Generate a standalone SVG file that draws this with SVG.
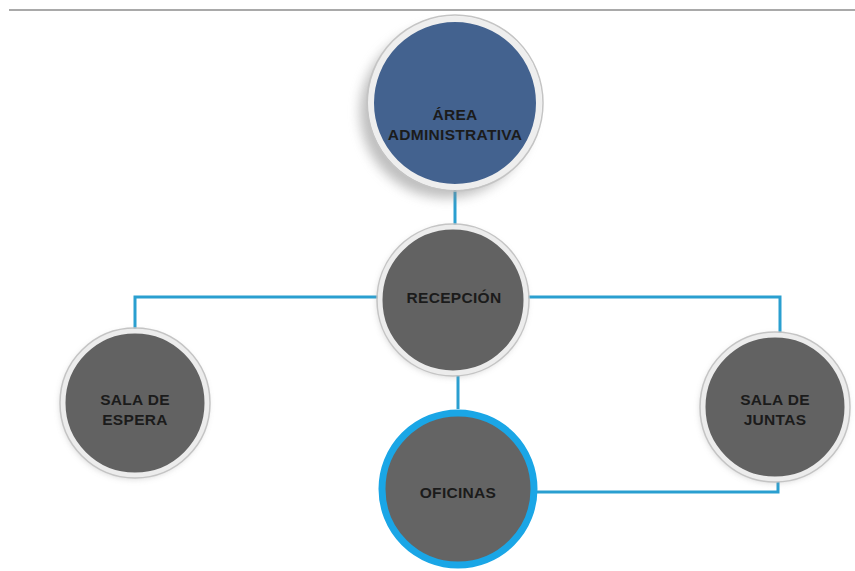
<svg xmlns="http://www.w3.org/2000/svg" width="855" height="571" viewBox="0 0 855 571">
<defs>
<filter id="sh" x="-30%" y="-30%" width="160%" height="160%"><feGaussianBlur stdDeviation="6"/></filter>
<filter id="sh2" x="-30%" y="-30%" width="160%" height="160%"><feGaussianBlur stdDeviation="3"/></filter>
</defs>
<style>
.lbl{font-family:"Liberation Sans",Arial,sans-serif;font-weight:bold;font-size:15.5px;letter-spacing:0.3px;fill:#1b1b1b;text-anchor:middle}
.conn{fill:none;stroke:#2a9fd0;stroke-width:3}
.gray{fill:#626262;stroke:#ececec;stroke-width:5}
.ring{fill:none;stroke:#c4c4c4;stroke-width:1.5}
</style>
<rect width="855" height="571" fill="#ffffff"/>
<line x1="9" y1="10" x2="855" y2="10" stroke="#a9a9a9" stroke-width="2"/>
<g id="connectors">
<line class="conn" x1="455" y1="183" x2="455" y2="228"/>
<polyline class="conn" points="135,333 135,297 780,297 780,334"/>
<line class="conn" x1="458" y1="372" x2="458" y2="409"/>
<polyline class="conn" points="536,492 778,492 778,482"/>
</g>
<g id="area-administrativa">
<circle cx="446" cy="112" r="86" fill="#8a8a8a" opacity="0.55" filter="url(#sh)"/>
<circle cx="455" cy="103" r="84" fill="#43628f" stroke="#eeeeee" stroke-width="6"/>
<circle cx="455" cy="103" r="88" class="ring"/>
<text class="lbl" x="455" y="120">ÁREA</text>
<text class="lbl" x="455" y="140">ADMINISTRATIVA</text>
</g>
<g id="recepcion">
<circle cx="452" cy="302" r="75" fill="#9a9a9a" opacity="0.4" filter="url(#sh2)"/>
<circle cx="453" cy="300" r="73" class="gray"/>
<circle cx="453" cy="300" r="76" class="ring"/>
<text class="lbl" x="454" y="303">RECEPCIÓN</text>
</g>
<g id="sala-espera">
<circle cx="134" cy="405" r="74" fill="#9a9a9a" opacity="0.4" filter="url(#sh2)"/>
<circle cx="135" cy="403" r="72" class="gray"/>
<circle cx="135" cy="403" r="75" class="ring"/>
<text class="lbl" x="135" y="405">SALA DE</text>
<text class="lbl" x="135" y="425">ESPERA</text>
</g>
<g id="sala-juntas">
<circle cx="774" cy="409" r="74" fill="#9a9a9a" opacity="0.4" filter="url(#sh2)"/>
<circle cx="775" cy="407" r="72" class="gray"/>
<circle cx="775" cy="407" r="75" class="ring"/>
<text class="lbl" x="775" y="405">SALA DE</text>
<text class="lbl" x="775" y="425">JUNTAS</text>
</g>
<g id="oficinas">
<circle cx="458" cy="489" r="76" fill="#646464" stroke="#1aa6e6" stroke-width="7"/>
<text class="lbl" x="458" y="498">OFICINAS</text>
</g>
</svg>
